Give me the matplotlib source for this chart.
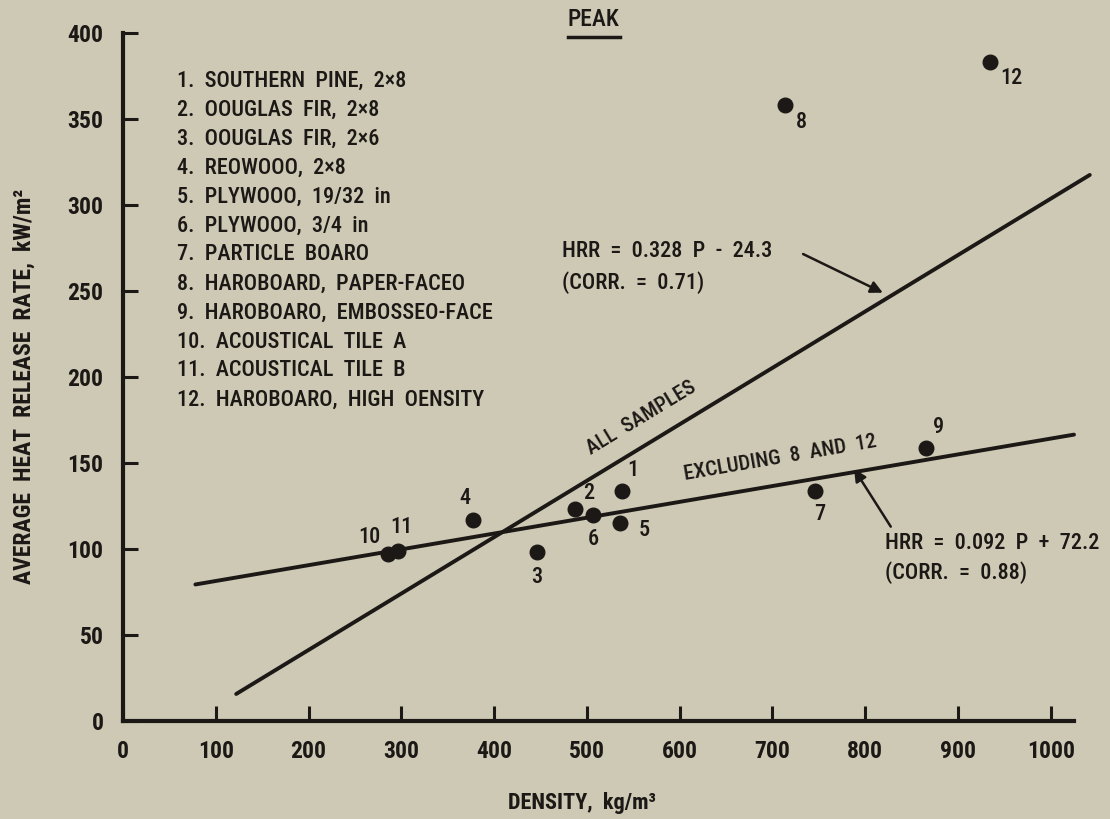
import matplotlib
matplotlib.use("Agg")
import matplotlib.pyplot as plt
from matplotlib.lines import Line2D

plt.rcParams['font.family'] = ['Roboto Condensed', 'DejaVu Sans Condensed',
                               'Liberation Sans Narrow', 'Roboto', 'DejaVu Sans']
plt.rcParams['font.weight'] = 'medium'

BG = '#cec9b4'
INK = '#1c1816'

# sample number, density (kg/m3), peak heat release rate (kW/m2)
sample_ids = ['1', '2', '3', '4', '5', '6', '7', '8', '9', '10', '11', '12']
density = [538, 487, 446, 377, 536, 507, 746, 713, 865, 286, 296, 934]
peak_hrr = [134, 123, 98, 117, 115, 120, 134, 358, 159, 97, 99, 383]

materials = [
    "SOUTHERN  PINE,  2×8",
    "OOUGLAS  FIR,  2×8",
    "OOUGLAS  FIR,  2×6",
    "REOWOOO,  2×8",
    "PLYWOOO,  19/32  in",
    "PLYWOOO,  3/4  in",
    "PARTICLE  BOARO",
    "HAROBOARD,  PAPER-FACEO",
    "HAROBOARO,  EMBOSSEO-FACE",
    "ACOUSTICAL  TILE  A",
    "ACOUSTICAL  TILE  B",
    "HAROBOARO,  HIGH  OENSITY",
]

# regression lines: slope, intercept, x range drawn
fit_all = (0.328, -24.3)
fit_all_range = (122, 1042)
fit_excl = (0.092, 72.2)
fit_excl_range = (78, 1025)

# label offsets (points) for each sample number
label_offsets = [(8, 15), (10, 11.5), (0, -18), (-6, 16), (17, -5), (0, -17.5),
                 (3, -17), (12, -12), (9.5, 15), (-14, 12), (3, 17), (16, -11.5)]

fig = plt.figure(figsize=(11.1, 8.19), dpi=100, facecolor=BG)
ax = fig.add_axes([123 / 1110, 98 / 819, 951 / 1110, 688 / 819])
ax.set_facecolor(BG)
ax.set_xlim(0, 1025)
ax.set_ylim(0, 400)

for side in ('top', 'right'):
    ax.spines[side].set_visible(False)
for side in ('left', 'bottom'):
    ax.spines[side].set_linewidth(3)
    ax.spines[side].set_color(INK)

ax.set_xticks(range(0, 1001, 100))
ax.set_yticks(range(0, 401, 50))
ax.tick_params(direction='in', length=11, width=2.2, colors=INK, labelsize=17, pad=14)
for lab in ax.get_xticklabels() + ax.get_yticklabels():
    lab.set_fontweight('bold')

# fit lines
for (m, b), (x0, x1) in ((fit_all, fit_all_range), (fit_excl, fit_excl_range)):
    ax.plot([x0, x1], [m * x0 + b, m * x1 + b], color=INK, lw=2.8,
            solid_capstyle='round', clip_on=False)

# samples
ax.plot(density, peak_hrr, 'o', color=INK, ms=10.5, clip_on=False, zorder=3)
for sid, x, y, off in zip(sample_ids, density, peak_hrr, label_offsets):
    ax.annotate(sid, (x, y), xytext=off, textcoords='offset points',
                ha='center', va='center', fontsize=16, color=INK)

# line labels
ax.text(559, 176, "ALL  SAMPLES", rotation=31.3, rotation_mode='anchor',
        ha='center', va='center', fontsize=15, color=INK)
ax.text(708, 153, "EXCLUDING  8  AND  12", rotation=9.8, rotation_mode='anchor',
        ha='center', va='center', fontsize=15, color=INK)

# equations with arrows
ax.text(473, 273, "HRR  =  0.328  P  -  24.3", ha='left', va='center', fontsize=16, color=INK)
ax.text(473, 255, "(CORR.  =  0.71)", ha='left', va='center', fontsize=16, color=INK)
ax.annotate("", xy=(819, 249), xytext=(733, 271.5),
            arrowprops=dict(arrowstyle='-|>', color=INK, lw=1.8,
                            mutation_scale=18, shrinkA=0, shrinkB=0))

ax.text(821, 103.5, "HRR  =  0.092  P  +  72.2", ha='left', va='center', fontsize=16, color=INK)
ax.text(821, 86.5, "(CORR.  =  0.88)", ha='left', va='center', fontsize=16, color=INK)
ax.annotate("", xy=(788, 146.5), xytext=(827.5, 113),
            arrowprops=dict(arrowstyle='-|>', color=INK, lw=1.8,
                            mutation_scale=18, shrinkA=0, shrinkB=0))

# material key
for i, name in enumerate(materials):
    fig.text(177 / 1110, 1 - (80.5 + 29 * i) / 819, f"{i + 1}.  {name}",
             ha='left', va='center', fontsize=16, color=INK)

# title and axis labels
fig.text(593 / 1110, 1 - 19 / 819, "PEAK", ha='center', va='center', fontsize=17, color=INK)
fig.add_artist(Line2D([568 / 1110, 620 / 1110], [1 - 37 / 819, 1 - 37 / 819],
                      color=INK, lw=2.5, transform=fig.transFigure))
fig.text(582 / 1110, 1 - 803 / 819, "DENSITY,  kg/m³", ha='center', va='center',
         fontsize=16, color=INK, fontweight='bold')
fig.text(24 / 1110, 1 - 386 / 819, "AVERAGE  HEAT  RELEASE  RATE,  kW/m²", rotation=90,
         ha='center', va='center', fontsize=17, color=INK, fontweight='bold')

fig.savefig("out.png", dpi=100, facecolor=BG)
